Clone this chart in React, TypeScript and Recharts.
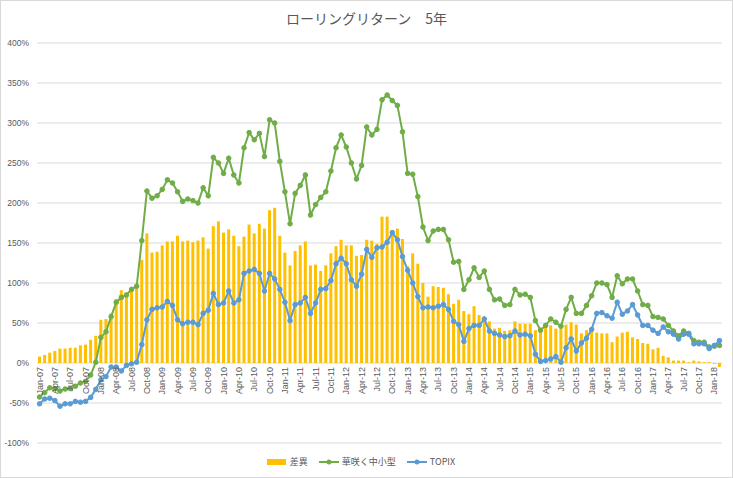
import React from 'react';
import { ComposedChart, Bar, Line, XAxis, YAxis, CartesianGrid } from 'recharts';

// ---------- data ----------
const MONTH_NAMES = ['Jan', 'Feb', 'Mar', 'Apr', 'May', 'Jun', 'Jul', 'Aug', 'Sep', 'Oct', 'Nov', 'Dec'];
const YEARS = ['07', '08', '09', '10', '11', '12', '13', '14', '15', '16', '17', '18'];
const CATEGORY_COUNT = 134; // Jan-07 .. Feb-18

const categories: string[] = [];
YEARS.forEach((y) => MONTH_NAMES.forEach((m) => categories.push(`${m}-${y}`)));
const months = categories.slice(0, CATEGORY_COUNT);

// 差異 (bars)
const diffValues = [
  8, 10, 13, 15, 18, 18, 19, 19, 22, 23,
  29, 34, 54, 55, 62, 80, 91, 88, 92, 97,
  129, 162, 138, 139, 147, 152, 152, 159, 152, 153,
  151, 153, 157, 143, 171, 177, 163, 167, 159, 146,
  158, 173, 162, 174, 168, 191, 194, 159, 138, 122,
  140, 147, 152, 122, 123, 115, 122, 137, 146, 154,
  147, 147, 134, 135, 154, 153, 149, 183, 183, 166,
  168, 155, 121, 137, 124, 100, 83, 96, 95, 94,
  86, 74, 79, 65, 61, 71, 60, 58, 52, 43,
  44, 40, 41, 52, 49, 49, 49, 41, 41, 46,
  47, 43, 45, 48, 51, 48, 37, 41, 41, 38,
  37, 37, 26, 33, 38, 39, 32, 30, 25, 24,
  17, 19, 9, 7, 3, 3, 3, 1, 3, 2,
  1, 1, -1, -5,
];

// 華咲く中小型 (green line)
const smallCapValues = [
  -42.5, -37, -31, -32, -35, -32.5, -32, -29, -25, -23,
  -15, 1, 32, 39, 58, 76, 82, 85, 92, 96,
  153, 215, 206, 209, 217, 229, 225, 214, 202, 205,
  203, 200, 219, 209, 257, 250, 237, 256, 235, 225,
  269, 288, 279, 287, 258, 304, 300, 252, 214, 174,
  212, 222, 235, 185, 198, 207, 214, 240, 269, 285,
  270, 250, 230, 247, 295, 285, 292, 329, 335, 328,
  322, 289, 237, 236, 208, 170, 153, 165, 167, 167,
  154, 126, 127, 92, 104, 119, 107, 115, 92, 79,
  80, 72, 73, 92, 85, 86, 82, 53, 41, 47,
  55, 51, 46, 67, 82, 62, 62, 72, 84, 100,
  100, 98, 82, 109, 99, 105, 105, 90, 73, 72,
  58, 57, 55, 47, 40, 34, 40, 37, 28, 26,
  26, 20, 21, 22,
];

// TOPIX (blue line)
const topixValues = [
  -51, -45, -44, -47, -54, -51, -51, -48, -49, -48,
  -43, -33, -21, -17, -5, -5, -10, -3, -1, 1,
  23, 54, 67, 69, 70, 77, 72, 54, 49, 51,
  51, 48, 62, 66, 87, 73, 75, 90, 75, 79,
  112, 115, 117, 112, 90, 112, 105, 92, 76, 53,
  73, 75, 82, 62, 75, 92, 93, 103, 124, 131,
  124, 104, 96, 111, 142, 132, 144, 145, 151, 163,
  154, 133, 116, 100, 83, 69, 70, 69, 71, 73,
  67, 52, 48, 27, 43, 47, 47, 55, 40, 37,
  35, 33, 34, 40, 35, 36, 34, 11, 2, 3,
  5, 8, 1, 19, 30, 15, 25, 31, 42, 62,
  63, 59, 56, 76, 61, 65, 73, 60, 47, 47,
  41, 37, 45, 39, 36, 30, 36, 36, 24, 24,
  24, 18, 22, 28,
];

const yTicks = [-100, -50, 0, 50, 100, 150, 200, 250, 300, 350, 400];

const SERIES_NAMES = { diff: '差異', small: '華咲く中小型', topix: 'TOPIX' };
const TITLE = 'ローリングリターン　5年';

const data = months.map((m, i) => ({
  m,
  diff: diffValues[i],
  small: smallCapValues[i],
  topix: topixValues[i],
}));

// ---------- layout / style ----------
const W = 733;
const H = 478;
const MARGIN = { top: 43, right: 11, bottom: 0, left: 0 };
const X_AXIS_H = 35;
const Y_MIN = -100;
const Y_MAX = 400;
const PLOT_H = H - MARGIN.top - MARGIN.bottom - X_AXIS_H;
const ZERO_SHIFT = (PLOT_H * (0 - Y_MIN)) / (Y_MAX - Y_MIN);

const TEXT = '#595959';
const GRID = '#d9d9d9';
const GOLD = '#FFC000';
const GREEN = '#70AD47';
const BLUE = '#5B9BD5';
const LATIN = '"Liberation Sans", Arial, sans-serif';
const CJK = '"Noto Sans CJK JP", "Noto Sans", sans-serif';

const XTick = (props: any) => {
  const { x, y, payload } = props;
  return (
    <text
      x={0}
      y={0}
      transform={`translate(${x + 3},${y - ZERO_SHIFT + 4}) rotate(-90)`}
      textAnchor="end"
      fontSize={9}
      fill={TEXT}
      fontFamily={LATIN}
    >
      {payload.value}
    </text>
  );
};

const LegendItem = ({ kind, color, label }: { kind: 'bar' | 'line'; color: string; label: string }) => (
  <div style={{ display: 'flex', alignItems: 'center', marginRight: 11 }}>
    <svg width={20} height={8} style={{ marginRight: 3 }}>
      {kind === 'bar' ? (
        <rect x={0} y={1} width={19} height={6} fill={color} />
      ) : (
        <g>
          <line x1={0} y1={4} x2={20} y2={4} stroke={color} strokeWidth={2} />
          <circle cx={10} cy={4} r={2.5} fill={color} />
        </g>
      )}
    </svg>
    <span>{label}</span>
  </div>
);

export default function App() {
  return (
    <div
      style={{
        position: 'absolute',
        left: 0,
        top: 0,
        width: W,
        height: H,
        background: '#fff',
        overflow: 'hidden',
      }}
    >
      <div
        style={{
          position: 'absolute',
          left: 0,
          top: 8,
          width: W,
          textAlign: 'center',
          fontFamily: CJK,
          fontSize: 14,
          lineHeight: '20px',
          color: TEXT,
        }}
      >
        {TITLE}
      </div>
      <ComposedChart width={W} height={H} data={data} margin={MARGIN}>
        <CartesianGrid vertical={false} stroke={GRID} strokeWidth={1} />
        <XAxis
          dataKey="m"
          height={X_AXIS_H}
          interval={2}
          tickLine={false}
          axisLine={false}
          tickSize={0}
          tickMargin={0}
          tick={(p: any) => <XTick {...p} />}
        />
        <YAxis
          width={37}
          domain={[Y_MIN, Y_MAX]}
          ticks={yTicks}
          tickFormatter={(v: number) => `${v}%`}
          axisLine={false}
          tickLine={false}
          tickSize={0}
          tickMargin={8}
          tick={{ fontSize: 8.5, fill: TEXT, fontFamily: LATIN }}
        />
        <Bar dataKey="diff" name={SERIES_NAMES.diff} fill={GOLD} barSize={3} isAnimationActive={false} />
        <Line
          dataKey="small"
          name={SERIES_NAMES.small}
          stroke={GREEN}
          strokeWidth={2}
          dot={{ r: 2.3, fill: GREEN, stroke: GREEN, strokeWidth: 1 }}
          activeDot={false}
          isAnimationActive={false}
        />
        <Line
          dataKey="topix"
          name={SERIES_NAMES.topix}
          stroke={BLUE}
          strokeWidth={2}
          dot={{ r: 2.3, fill: BLUE, stroke: BLUE, strokeWidth: 1 }}
          activeDot={false}
          isAnimationActive={false}
        />
      </ComposedChart>
      <div
        style={{
          position: 'absolute',
          left: 0,
          top: 455,
          width: W,
          display: 'flex',
          justifyContent: 'center',
          fontFamily: CJK,
          fontSize: 9,
          lineHeight: '14px',
          color: TEXT,
        }}
      >
        <LegendItem kind="bar" color={GOLD} label={SERIES_NAMES.diff} />
        <LegendItem kind="line" color={GREEN} label={SERIES_NAMES.small} />
        <LegendItem kind="line" color={BLUE} label={SERIES_NAMES.topix} />
      </div>
      <div
        style={{
          position: 'absolute',
          left: 0,
          top: 0,
          width: W,
          height: H,
          boxSizing: 'border-box',
          border: `1px solid ${GRID}`,
          pointerEvents: 'none',
        }}
      />
    </div>
  );
}
